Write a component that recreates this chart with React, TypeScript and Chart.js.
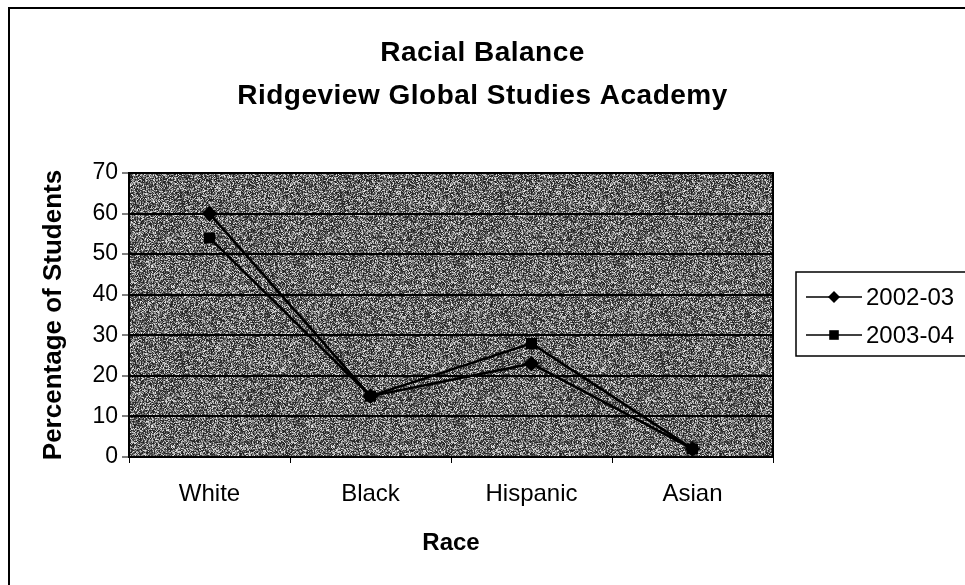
import React, { useEffect, useRef } from 'react';
import { Chart, registerables } from 'chart.js';

Chart.register(...registerables);

const categories = ['White', 'Black', 'Hispanic', 'Asian'];
const series2002 = [60, 15, 23, 2];
const series2003 = [54, 15, 28, 2];
const seriesLabels = ['2002-03', '2003-04'];
const yMin = 0;
const yMax = 70;
const yStep = 10;
const titleLines = ['Racial Balance', 'Ridgeview Global Studies Academy'];
const xTitle = 'Race';
const yTitle = 'Percentage of Students';

const FONT = '"Liberation Sans", Arial, sans-serif';

function makePattern(ctx: CanvasRenderingContext2D): CanvasPattern | string {
  const size = 160;
  const c = document.createElement('canvas');
  c.width = size;
  c.height = size;
  const g = c.getContext('2d');
  if (!g) return '#6a6a6a';
  const img = g.createImageData(size, size);
  let s = 987654321;
  const next = () => {
    s = (s + 0x6d2b79f5) | 0;
    let t = Math.imul(s ^ (s >>> 15), 1 | s);
    t = (t + Math.imul(t ^ (t >>> 7), 61 | t)) ^ t;
    return ((t ^ (t >>> 14)) >>> 0) / 4294967296;
  };
  for (let i = 0; i < size * size; i++) {
    const r = next();
    const v = Math.round(30 + 205 * Math.pow(r, 1.6));
    img.data[i * 4] = v;
    img.data[i * 4 + 1] = v;
    img.data[i * 4 + 2] = v;
    img.data[i * 4 + 3] = 255;
  }
  g.putImageData(img, 0, 0);
  return ctx.createPattern(c, 'repeat') || '#6a6a6a';
}

function drawMarker(ctx: CanvasRenderingContext2D, style: string, x: number, y: number, r: number) {
  ctx.beginPath();
  if (style === 'rectRot') {
    ctx.moveTo(x, y - r);
    ctx.lineTo(x + r, y);
    ctx.lineTo(x, y + r);
    ctx.lineTo(x - r, y);
    ctx.closePath();
  } else {
    ctx.rect(x - r * 0.8, y - r * 0.8, r * 1.6, r * 1.6);
  }
  ctx.fill();
}

export default function App() {
  const ref = useRef<HTMLCanvasElement | null>(null);

  useEffect(() => {
    const canvas = ref.current;
    if (!canvas) return;
    const ctx0 = canvas.getContext('2d');
    if (!ctx0) return;
    const pattern = makePattern(ctx0);

    const decor = {
      id: 'decor',
      beforeDraw(chart: any) {
        const { ctx, chartArea: a } = chart;
        ctx.save();
        ctx.fillStyle = pattern;
        ctx.fillRect(a.left, a.top, a.right - a.left, a.bottom - a.top);
        ctx.restore();
      },
      afterDraw(chart: any) {
        const { ctx, chartArea: a, width } = chart;
        ctx.save();
        // outer frame
        ctx.strokeStyle = '#000';
        ctx.lineWidth = 2;
        ctx.beginPath();
        ctx.moveTo(9, 600);
        ctx.lineTo(9, 8);
        ctx.lineTo(980, 8);
        ctx.stroke();
        // plot border
        ctx.lineWidth = 2;
        ctx.strokeRect(a.left, a.top, a.right - a.left, a.bottom - a.top);
        // title
        ctx.fillStyle = '#000';
        ctx.font = `bold 28px ${FONT}`;
        try {
          (ctx as any).letterSpacing = '0.5px';
        } catch (e) {
          /* ignore */
        }
        ctx.textAlign = 'center';
        ctx.textBaseline = 'alphabetic';
        ctx.fillText(titleLines[0], width / 2, 61);
        ctx.fillText(titleLines[1], width / 2, 104);
        try {
          (ctx as any).letterSpacing = '0px';
        } catch (e) {
          /* ignore */
        }
        // legend
        ctx.lineWidth = 1.5;
        ctx.strokeRect(796, 272, 200, 84);
        const ys = [297, 335];
        chart.data.datasets.forEach((ds: any, i: number) => {
          const y = ys[i];
          ctx.strokeStyle = '#000';
          ctx.lineWidth = 1.5;
          ctx.beginPath();
          ctx.moveTo(806, y);
          ctx.lineTo(862, y);
          ctx.stroke();
          ctx.fillStyle = '#000';
          drawMarker(ctx, ds.pointStyle, 834, y, 6);
          ctx.font = `24px ${FONT}`;
          ctx.textAlign = 'left';
          ctx.textBaseline = 'middle';
          ctx.fillText(ds.label, 866, y + 1);
        });
        ctx.restore();
      },
    };

    const chart = new Chart(canvas, {
      type: 'line',
      data: {
        labels: categories,
        datasets: [
          {
            label: seriesLabels[0],
            data: series2002,
            borderColor: '#000',
            backgroundColor: '#000',
            borderWidth: 2.5,
            pointStyle: 'rectRot',
            pointRadius: 6,
            pointBackgroundColor: '#000',
            pointBorderColor: '#000',
            tension: 0,
          },
          {
            label: seriesLabels[1],
            data: series2003,
            borderColor: '#000',
            backgroundColor: '#000',
            borderWidth: 2.5,
            pointStyle: 'rect',
            pointRadius: 6,
            pointBackgroundColor: '#000',
            pointBorderColor: '#000',
            tension: 0,
          },
        ],
      },
      options: {
        responsive: false,
        animation: false,
        layout: { padding: { top: 173, left: 8, right: 192, bottom: 0 } },
        plugins: {
          legend: { display: false },
          title: { display: false },
          tooltip: { enabled: false },
        },
        scales: {
          x: {
            type: 'category',
            offset: true,
            afterFit: (s: any) => {
              s.height = 128;
            },
            grid: {
              offset: true,
              drawOnChartArea: false,
              drawTicks: true,
              tickLength: 6,
              tickColor: '#000',
              tickWidth: 1,
              color: '#000',
            },
            border: { display: true, color: '#000', width: 2 },
            ticks: {
              color: '#000',
              font: { family: FONT, size: 24 },
              padding: 17,
              maxRotation: 0,
            },
            title: {
              display: true,
              text: xTitle,
              color: '#000',
              font: { family: FONT, size: 24, weight: 'bold' },
              padding: { top: 0, bottom: 27 },
            },
          },
          y: {
            min: yMin,
            max: yMax,
            afterFit: (s: any) => {
              s.width = 121;
            },
            grid: {
              color: '#000',
              lineWidth: 2,
              drawTicks: true,
              tickLength: 7,
              tickColor: '#000',
              tickWidth: 1,
            },
            border: { display: true, color: '#000', width: 2 },
            ticks: {
              stepSize: yStep,
              color: '#000',
              font: { family: FONT, size: 23 },
              padding: 4,
            },
            title: {
              display: true,
              text: yTitle,
              color: '#000',
              font: { family: FONT, size: 26, weight: 'bold' },
              padding: { top: 30, bottom: 0 },
            },
          },
        },
      },
      plugins: [decor],
    } as any);

    return () => {
      chart.destroy();
    };
  }, []);

  return (
    <div style={{ position: 'fixed', left: 0, top: 0, width: 965, height: 585, background: '#fff' }}>
      <canvas ref={ref} width={965} height={585} />
    </div>
  );
}
